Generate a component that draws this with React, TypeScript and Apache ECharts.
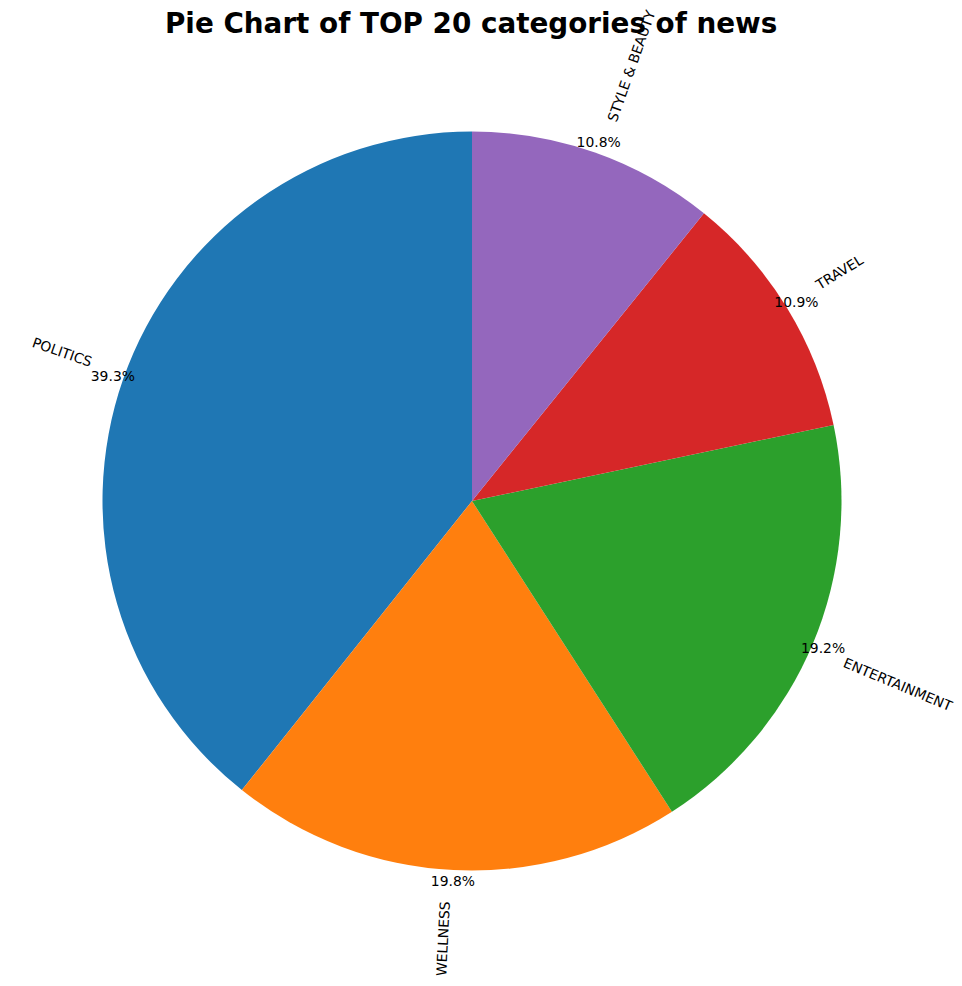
import React, { useEffect, useRef } from "react";
import * as echarts from "echarts";

const categories = ["POLITICS", "WELLNESS", "ENTERTAINMENT", "TRAVEL", "STYLE & BEAUTY"];
const shares = [39.3, 19.8, 19.2, 10.9, 10.8];
const colors = ["#1f77b4", "#ff7f0e", "#2ca02c", "#d62728", "#9467bd"];
const titleText = "Pie Chart of TOP 20 categories of news";

const FONT = "DejaVu Sans";
const CX = 472;
const CY = 501;
const R = 369.5;
const R_LABEL = R * 1.084;

export default function App() {
  const ref = useRef<HTMLDivElement>(null);
  useEffect(() => {
    document.body.style.margin = "0";
    if (!ref.current) return;
    const chart = echarts.init(ref.current, null, { renderer: "svg" });
    const data = categories.map((name, i) => ({ name, value: shares[i] }));
    const total = shares.reduce((a, b) => a + b, 0);
    const midAngles: number[] = [];
    let cum = 0;
    shares.forEach((s) => {
      midAngles.push(((90 + (360 * (cum + s / 2)) / total) * Math.PI) / 180);
      cum += s;
    });
    chart.setOption({
      animation: false,
      title: {
        text: titleText,
        left: 160,
        top: 4,
        textStyle: { fontFamily: FONT, fontWeight: "bold", fontSize: 27.8, color: "#000" },
      },
      series: [
        {
          type: "pie",
          center: [CX, CY],
          radius: [0, R],
          startAngle: 90,
          clockwise: false,
          silent: true,
          avoidLabelOverlap: false,
          data: data.map((d, i) => ({ ...d, itemStyle: { color: colors[i], borderWidth: 0 } })),
          label: { show: false },
          labelLine: { show: false },
        },
        {
          type: "pie",
          center: [CX, CY],
          radius: [R * 0.96, R * 1.083],
          startAngle: 90,
          clockwise: false,
          silent: true,
          avoidLabelOverlap: false,
          labelLayout: { hideOverlap: false },
          data: data.map((d) => ({ ...d, itemStyle: { color: "rgba(0,0,0,0)", borderWidth: 0 } })),
          label: {
            show: true,
            position: "inside",
            formatter: (p: any) => p.value.toFixed(1) + "%",
            fontFamily: FONT,
            fontSize: 13.9,
            color: "#000",
          },
          labelLine: { show: false },
        },
        {
          type: "pie",
          center: [CX, CY],
          radius: [R_LABEL - 4, R_LABEL],
          startAngle: 90,
          clockwise: false,
          silent: true,
          avoidLabelOverlap: false,
          labelLayout: (p: any) => {
            // matplotlib aligns the rotated text's bounding box corner with the anchor point
            const a = midAngles[p.dataIndex];
            const ax = CX + R_LABEL * Math.cos(a);
            const ay = CY - R_LABEL * Math.sin(a);
            const w = p.labelRect.width;
            const h = p.labelRect.height;
            const x = ax < CX ? ax - w / 2 : ax + w / 2;
            const y = ay < CY ? ay - h / 2 : ay + h / 2;
            return { x, y, align: "center", verticalAlign: "middle", hideOverlap: false };
          },
          data: data.map((d) => ({ ...d, itemStyle: { color: "rgba(0,0,0,0)", borderWidth: 0 } })),
          label: {
            show: true,
            position: "outside",
            rotate: "radial",
            distanceToLabelLine: 0,
            overflow: "none",
            formatter: "{b}",
            fontFamily: FONT,
            fontSize: 13.9,
            color: "#000",
          },
          labelLine: { show: false, length: 0, length2: 0 },
        },
      ],
    });
    return () => chart.dispose();
  }, []);
  return <div ref={ref} style={{ width: 962, height: 986 }} />;
}
